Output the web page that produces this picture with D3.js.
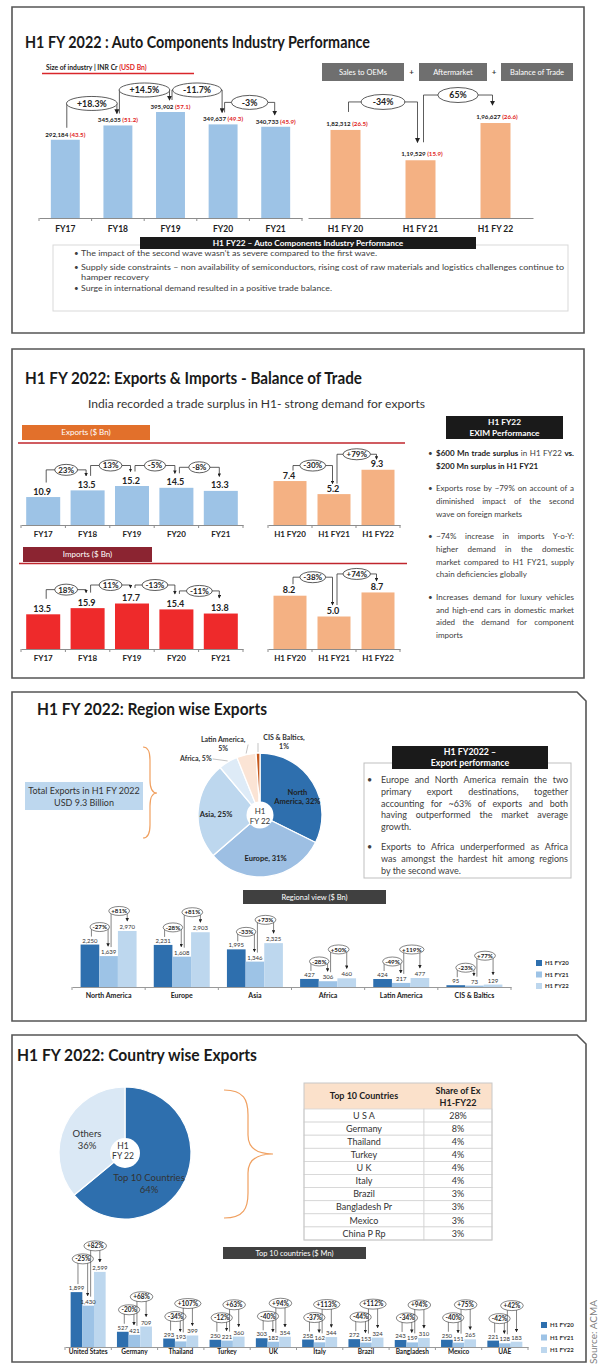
<!DOCTYPE html>
<html>
<head>
<meta charset="utf-8">
<script src="https://cdn.jsdelivr.net/npm/d3@7"></script>
<style>
  body { margin: 0; background: #fff; }
  svg { display: block; font-family: Lato, "Open Sans", sans-serif; }
</style>
</head>
<body>
<div id="chart"></div>
<script>
// ---- panel 1 : industry size ----
var sizeYears = ["FY17", "FY18", "FY19", "FY20", "FY21"];
var sizeInr = [292184, 345635, 395902, 349637, 340733];
var sizeUsd = [43.5, 51.2, 57.1, 49.3, 45.9];
var sizeGrowth = ["+18.3%", "+14.5%", "-11.7%", "-3%"];
var halfYears = ["H1 FY 20", "H1 FY 21", "H1 FY 22"];
var halfInr = [182312, 119529, 196627];
var halfUsd = [26.5, 15.9, 26.6];
var halfGrowth = ["-34%", "65%"];
var segments = ["Sales to OEMs", "Aftermarket", "Balance of Trade"];
var industryNotes = [
  "The impact of the second wave wasn\u2019t as severe compared to the first wave.",
  "Supply side constraints \u2013 non availability of semiconductors, rising cost of raw materials and logistics challenges continue to",
  "hamper recovery",
  "Surge in international demand resulted in a positive trade balance."
];

// ---- panel 2 : exports & imports ----
var tradeYears = ["FY17", "FY18", "FY19", "FY20", "FY21"];
var exportsYear = [10.9, 13.5, 15.2, 14.5, 13.3];
var exportsYearGrowth = ["23%", "13%", "-5%", "-8%"];
var importsYear = [13.5, 15.9, 17.7, 15.4, 13.8];
var importsYearGrowth = ["18%", "11%", "-13%", "-11%"];
var tradeHalves = ["H1 FY20", "H1 FY21", "H1 FY22"];
var exportsHalf = [7.4, 5.2, 9.3];
var exportsHalfGrowth = ["-30%", "+79%"];
var importsHalf = [8.2, 5.0, 8.7];
var importsHalfGrowth = ["-38%", "+74%"];
var eximNotes = [
  [[["$600 Mn trade surplus", 1], [" in H1 FY22 ", 0], ["vs.", 1]], [["$200 Mn surplus in H1 FY21", 1]]],
  ["Exports rose by ~79% on account of a", "diminished impact of the second", "wave on foreign markets"],
  ["~74% increase in imports Y-o-Y:", "higher demand in the domestic", "market compared to H1 FY21, supply", "chain deficiencies globally"],
  ["Increases demand for luxury vehicles", "and high-end cars in domestic market", "aided the demand for component", "imports"]
];

// ---- panel 3 : regions ----
var regions = ["North America", "Europe", "Asia", "Africa", "Latin America", "CIS & Baltics"];
var regionShare = [32, 31, 25, 5, 5, 1];
var regionFY20 = [2250, 2231, 1995, 427, 424, 95];
var regionFY21 = [1639, 1608, 1346, 306, 217, 73];
var regionFY22 = [2970, 2903, 2325, 460, 477, 129];
var regionChg21 = ["-27%", "-28%", "-33%", "-28%", "-49%", "-23%"];
var regionChg22 = ["+81%", "+81%", "+73%", "+50%", "+119%", "+77%"];
var halfSeries = ["H1 FY20", "H1 FY21", "H1 FY22"];
var regionNotes = [
  ["Europe and North America remain the two", "primary export destinations, together", "accounting for ~63% of exports and both", "having outperformed the market average", "growth."],
  ["Exports to Africa underperformed as Africa", "was amongst the hardest hit among regions", "by the second wave."]
];

// ---- panel 4 : countries ----
var countryMix = ["Top 10 Countries", "Others"];
var countryMixShare = [64, 36];
var tableCountries = ["U S A", "Germany", "Thailand", "Turkey", "U K", "Italy", "Brazil", "Bangladesh Pr", "Mexico", "China P Rp"];
var tableShare = ["28%", "8%", "4%", "4%", "4%", "4%", "3%", "3%", "3%", "3%"];
var countries = ["United States", "Germany", "Thailand", "Turkey", "UK", "Italy", "Brazil", "Bangladesh", "Mexico", "UAE"];
var countryFY20 = [1899, 527, 293, 250, 303, 258, 272, 243, 250, 221];
var countryFY21 = [1430, 421, 193, 221, 182, 162, 153, 159, 151, 128];
var countryFY22 = [2599, 709, 399, 360, 354, 344, 324, 310, 265, 183];
var countryChg21 = ["-25%", "-20%", "-34%", "-12%", "-40%", "-37%", "-44%", "-34%", "-40%", "-42%"];
var countryChg22 = ["+82%", "+68%", "+107%", "+63%", "+94%", "+113%", "+112%", "+94%", "+75%", "+42%"];

var seriesColors = ["#2e6fae", "#9dc3e6", "#bdd7ee"];

var svg = d3.select("#chart").append("svg").attr("width", 600).attr("height", 1369);
var defs = svg.append("defs");
[["arr", 5], ["arrS", 3.5]].forEach(function(m) {
  defs.append("marker").attr("id", m[0]).attr("viewBox", "0 0 6 6")
    .attr("refX", 5).attr("refY", 3).attr("markerUnits", "userSpaceOnUse")
    .attr("markerWidth", m[1]).attr("markerHeight", m[1]).attr("orient", "auto")
    .append("path").attr("d", "M0,0L6,3L0,6Z").attr("fill", "#222");
});

function frame(x0, y0, x1, y1, cut) {
  var d = cut ? "M" + x0 + "," + y0 + "H" + (x1 - cut) + "L" + x1 + "," + (y0 + cut) + "V" + y1 + "H" + x0 + "Z"
              : "M" + x0 + "," + y0 + "H" + x1 + "V" + y1 + "H" + x0 + "Z";
  svg.append("path").attr("d", d).attr("fill", "none").attr("stroke", "#555").attr("stroke-width", 1.6);
}

function title(x, y, w, s) {
  svg.append("text").attr("x", x).attr("y", y).attr("font-size", 17).attr("font-weight", 700)
    .attr("fill", "#1a1a1a").attr("textLength", w).attr("lengthAdjust", "spacingAndGlyphs").text(s);
}

function label(g, x, y, s, fs, o) {
  o = o || {};
  return g.append("text").attr("x", x).attr("y", y).attr("font-size", fs)
    .attr("font-weight", o.bold ? 700 : 400).attr("fill", o.fill || "#333")
    .attr("text-anchor", o.anchor || "middle").text(s);
}

function box(x, y, w, h, fill, lines, fs, bold) {
  svg.append("rect").attr("x", x).attr("y", y).attr("width", w).attr("height", h).attr("fill", fill);
  var lh = fs * 1.25, y0 = y + h / 2 - (lines.length - 1) * lh / 2 + fs * 0.35;
  lines.forEach(function(s, k) {
    label(svg, x + w / 2, y0 + k * lh, s, fs, {bold: bold, fill: "#fff"});
  });
}

function bubble(g, b) {
  g.append("path")
    .attr("d", "M" + b.x1 + "," + b.y1 + "V" + b.yb + "H" + b.x2 + "V" + b.y2)
    .attr("fill", "none").attr("stroke", "#333").attr("stroke-width", b.sw)
    .attr("marker-end", "url(#" + b.mk + ")");
  var cx = (b.x1 + b.x2) / 2;
  var e = g.append("ellipse").attr("cx", cx).attr("cy", b.yb).attr("ry", b.ry)
    .attr("fill", "#fff").attr("stroke", "#333").attr("stroke-width", b.sw);
  var t = label(g, cx, b.yb + b.fs * 0.36, b.text, b.fs, {bold: true, fill: "#222"});
  e.attr("rx", t.node().getComputedTextLength() / 2 + b.pad);
}

// single series bar chart on a band scale
function singleBars(o) {
  var x = d3.scaleBand().domain(o.cats).range(o.range).paddingInner(o.pad).paddingOuter(o.pad / 2);
  var y = d3.scaleLinear().domain([0, o.max]).range([o.base, o.top]);
  var g = svg.append("g");
  g.selectAll("rect").data(o.vals).join("rect")
    .attr("x", function(d, i) { return x(o.cats[i]); })
    .attr("y", function(d) { return y(d); })
    .attr("width", x.bandwidth())
    .attr("height", function(d) { return o.base - y(d); })
    .attr("fill", o.color);
  var ax = g.append("g").attr("transform", "translate(0," + o.base + ")")
    .call(d3.axisBottom(x).tickSize(0).tickPadding(o.catPad));
  ax.select(".domain").attr("stroke", "#8c8c8c");
  ax.selectAll("text").attr("font-size", o.catSize).attr("font-weight", 700).attr("fill", "#222")
    .attr("font-family", "Lato, sans-serif");
  if (o.ticks) {
    g.selectAll("line.bt").data(d3.range(o.cats.length + 1)).join("line").attr("class", "bt")
      .attr("x1", function(i) { return o.range[0] + i * x.step(); })
      .attr("x2", function(i) { return o.range[0] + i * x.step(); })
      .attr("y1", o.base).attr("y2", o.base + 3).attr("stroke", "#8c8c8c");
  }
  var cx = function(i) { return x(o.cats[i]) + x.bandwidth() / 2; };
  return {x: x, y: y, g: g, cx: cx};
}

function chainBubbles(c, vals, texts, lab, o) {
  for (var i = 0; i < texts.length; i++) {
    var lf = lab(vals[i]), lt = lab(vals[i + 1]);
    bubble(c.g, {
      x1: c.cx(i) + o.dl, x2: c.cx(i + 1) + o.dr,
      yb: Math.min(lf, lt) - o.gap, y1: lf - o.leg, y2: lt - o.leg,
      text: texts[i], fs: o.fs, pad: o.pad, ry: o.ry, sw: o.sw, mk: o.mk
    });
  }
}

// justified paragraph block
function paragraphs(g, paras, x, y0, lh, gap, width, fs, bulletX) {
  var y = y0;
  paras.forEach(function(lines) {
    label(g, bulletX, y, "\u2022", fs, {anchor: "start", fill: "#404040"});
    lines.forEach(function(line, k) {
      var t = g.append("text").attr("x", x).attr("y", y).attr("font-size", fs).attr("fill", "#404040");
      var segs = typeof line === "string" ? [[line, 0]] : line;
      segs.forEach(function(s) {
        t.append("tspan").attr("font-weight", s[1] ? 700 : 400).attr("fill", s[1] ? "#222" : "#404040").text(s[0]);
      });
      if (k < lines.length - 1) {
        var full = segs.map(function(s) { return s[0]; }).join("");
        var spaces = (full.match(/ /g) || []).length;
        var extra = width - t.node().getComputedTextLength();
        if (spaces > 0) t.attr("word-spacing", extra / spaces);
      }
      y += lh;
    });
    y += gap - lh;
  });
}

function indian(n) {
  var s = String(n);
  if (s.length <= 3) return s;
  return s.slice(0, -3).replace(/\B(?=(\d{2})+(?!\d))/g, ",") + "," + s.slice(-3);
}

// =============== PANEL 1 ===============
frame(12, 7, 584, 333);
title(25, 48, 345, "H1 FY 2022 : Auto Components Industry Performance");
var sz = label(svg, 46, 70, "Size of industry | INR Cr ", 6.8, {bold: true, anchor: "start", fill: "#222"});
sz.append("tspan").attr("fill", "#e02424").text("(USD Bn)");
svg.append("line").attr("x1", 42).attr("x2", 194).attr("y1", 73.5).attr("y2", 73.5)
  .attr("stroke", "#d9262b").attr("stroke-width", 1.5);

var p1L = singleBars({cats: sizeYears, vals: sizeInr, range: [39, 302], pad: 0.45, base: 218,
  max: 400000, top: 218 - 107.1, color: "#9dc3e6", catPad: 8, catSize: 8.5, ticks: true});
p1L.g.selectAll("text.val").data(sizeInr).join("text").attr("class", "val")
  .attr("x", function(d, i) { return p1L.cx(i); })
  .attr("y", function(d) { return p1L.y(d) - 3; })
  .attr("text-anchor", "middle").attr("font-size", 6.2).attr("font-weight", 700).attr("fill", "#222")
  .each(function(d, i) {
    var s = d3.select(this);
    s.append("tspan").text(d3.format(",")(d) + " ");
    s.append("tspan").attr("fill", "#e02424").text("(" + sizeUsd[i].toFixed(1) + ")");
  });
chainBubbles(p1L, sizeInr, sizeGrowth, function(v) { return p1L.y(v) - 3; },
  {dl: 1.5, dr: -1, gap: 19, leg: 9, fs: 8.8, pad: 10.5, ry: 7, sw: 0.8, mk: "arr"});

// segment tags
var tagX = [[322, 404], [419, 487], [501, 573]];
segments.forEach(function(s, i) {
  box(tagX[i][0], 63, tagX[i][1] - tagX[i][0], 18, "#6f6f6f", [s], 7.5, false);
  if (i > 0) label(svg, (tagX[i - 1][1] + tagX[i][0]) / 2, 75, "+", 8, {bold: true, fill: "#333"});
});

var p1R = singleBars({cats: halfYears, vals: halfInr, range: [308, 533], pad: 0.6, base: 218,
  max: 200000, top: 218 - 96.6, color: "#f4b183", catPad: 8, catSize: 8.5});
p1R.g.selectAll("text.val").data(halfInr).join("text").attr("class", "val")
  .attr("x", function(d, i) { return p1R.cx(i) + 1.5; })
  .attr("y", function(d) { return p1R.y(d) - 4; })
  .attr("text-anchor", "middle").attr("font-size", 6.2).attr("font-weight", 700).attr("fill", "#222")
  .each(function(d, i) {
    var s = d3.select(this);
    s.append("tspan").text(indian(d) + " ");
    s.append("tspan").attr("fill", "#e02424").text("(" + halfUsd[i].toFixed(1) + ")");
  });
chainBubbles(p1R, halfInr, halfGrowth, function(v) { return p1R.y(v) - 4; },
  {dl: 3, dr: -3, gap: 24, leg: 14, fs: 8.8, pad: 11.5, ry: 7.5, sw: 0.8, mk: "arr"});

svg.append("rect").attr("x", 53).attr("y", 245).attr("width", 515).attr("height", 66)
  .attr("fill", "none").attr("stroke", "#d9d9d9");
box(140, 237, 336, 12, "#1a1a1a", ["H1 FY22 \u2013 Auto Components Industry Performance"], 8.3, true);
var noteRows = [[256, 296, true], [270, 483, true], [279.5, 68, false], [291, 251, true]];
industryNotes.forEach(function(s, i) {
  if (noteRows[i][2]) label(svg, 74, noteRows[i][0], "\u2022", 8, {anchor: "start", fill: "#404040"});
  label(svg, 81, noteRows[i][0], s, 8.2, {anchor: "start", fill: "#404040"})
    .attr("textLength", noteRows[i][1]).attr("lengthAdjust", "spacingAndGlyphs");
});

// =============== PANEL 2 ===============
frame(12, 349, 584, 678);
title(25, 384, 337, "H1 FY 2022: Exports & Imports - Balance of Trade");
label(svg, 88, 408, "India recorded a trade surplus in H1- strong demand for exports", 11.5, {anchor: "start", fill: "#333"})
  .attr("textLength", 337).attr("lengthAdjust", "spacingAndGlyphs");

box(22, 425, 128, 15, "#e2702b", ["Exports ($ Bn)"], 8, false);
svg.append("line").attr("x1", 18).attr("x2", 405).attr("y1", 443).attr("y2", 443).attr("stroke", "#c0262d").attr("stroke-width", 1.5);
box(23, 547, 129, 15, "#8b2431", ["Imports ($ Bn)"], 8, false);
svg.append("line").attr("x1", 19).attr("x2", 407).attr("y1", 563.5).attr("y2", 563.5).attr("stroke", "#c0262d").attr("stroke-width", 1.5);

function tradeChart(cats, vals, growth, o) {
  var c = singleBars({cats: cats, vals: vals, range: o.range, pad: o.pad, base: o.base, max: o.max,
    top: o.top, color: o.color, catPad: 6.5, catSize: 8, ticks: true});
  var lab = function(v) { return c.y(v) - 2.5; };
  c.g.selectAll("text.val").data(vals).join("text").attr("class", "val")
    .attr("x", function(d, i) { return c.cx(i) - 1; })
    .attr("y", lab).attr("text-anchor", "middle").attr("font-size", 9).attr("font-weight", 700)
    .attr("fill", "#222").text(function(d) { return d3.format(".1f")(d); });
  chainBubbles(c, vals, growth, lab, {dl: 3, dr: -1.5, gap: o.gap, leg: o.leg, fs: 8, pad: 3.5, ry: 5.5, sw: 0.8, mk: "arrS"});
}
tradeChart(tradeYears, exportsYear, exportsYearGrowth, {range: [21, 243], pad: 0.234, base: 525, max: 20, top: 525 - 51.3, color: "#9dc3e6", gap: 18, leg: 12});
tradeChart(tradeHalves, exportsHalf, exportsHalfGrowth, {range: [268, 400], pad: 0.25, base: 525, max: 10, top: 525 - 59.4, color: "#f4b183", gap: 13, leg: 8});
tradeChart(tradeYears, importsYear, importsYearGrowth, {range: [21, 243], pad: 0.234, base: 649, max: 20, top: 649 - 51.4, color: "#ee2a2b", gap: 16, leg: 13});
tradeChart(tradeHalves, importsHalf, importsHalfGrowth, {range: [268, 400], pad: 0.25, base: 649, max: 10, top: 649 - 65, color: "#f4b183", gap: 16, leg: 9});

box(446, 416, 117, 23, "#1a1a1a", ["H1 FY22", "EXIM Performance"], 8.3, true);
paragraphs(svg, eximNotes, 436, 456, 12.8, 22.3, 138, 8, 428);

// =============== PANEL 3 ===============
frame(12, 692, 586, 1021, 9);
title(37, 715, 230, "H1 FY 2022: Region wise Exports");

svg.append("rect").attr("x", 25).attr("y", 782).attr("width", 118).attr("height", 28).attr("fill", "#bdd7ee");
label(svg, 84, 794, "Total Exports in H1 FY 2022", 9, {fill: "#333"});
label(svg, 84, 805.5, "USD 9.3 Billion", 9, {fill: "#333"});
svg.append("path").attr("d", "M143,747Q150,747 150,760V780Q150,793 157,793Q150,793 150,806V825Q150,838 143,838")
  .attr("fill", "none").attr("stroke", "#f0a060").attr("stroke-width", 1.2);

var regionColors = ["#2e6fae", "#9dbfe3", "#bdd7ee", "#deebf7", "#fbe4d5", "#c5581c"];
var rPie = svg.append("g").attr("transform", "translate(260,815)");
var rArcs = d3.pie().sort(null)(regionShare);
rPie.selectAll("path").data(rArcs).join("path")
  .attr("d", d3.arc().innerRadius(0).outerRadius(62))
  .attr("fill", function(d, i) { return regionColors[i]; })
  .attr("stroke", "#fff").attr("stroke-width", 1.3);
rPie.append("circle").attr("r", 13.5).attr("fill", "#fff");
label(rPie, 0, -1, "H1", 8, {fill: "#333"});
label(rPie, 0, 9, "FY 22", 8, {fill: "#333"});
var inArc = d3.arc().innerRadius(36).outerRadius(52);
var edgeArc = d3.arc().innerRadius(63).outerRadius(63);
rArcs.forEach(function(a, i) {
  var name = regions[i], pct = regionShare[i] + "%";
  if (regionShare[i] >= 20) {
    var c = inArc.centroid(a);
    var lines = name.indexOf(" ") > 0 ? [name.split(" ")[0], name.split(" ").slice(1).join(" ") + ", " + pct] : [name + ", " + pct];
    var dy = lines.length > 1 ? 3 : (i === 2 ? 5 : 2.5);
    lines.forEach(function(s, k) { label(rPie, c[0], c[1] + dy + k * 9.5, s, 7.5, {bold: true, fill: "#1f1f1f"}); });
  } else {
    var e = edgeArc.centroid(a);
    if (name.length < 10) {
      rPie.append("line").attr("x1", e[0]).attr("y1", e[1]).attr("x2", e[0] - 15).attr("y2", e[1] - 2).attr("stroke", "#aaa").attr("stroke-width", 0.7);
      label(rPie, e[0] - 16, e[1] + 0.5, name + ", " + pct, 7, {bold: true, anchor: "end", fill: "#333"});
    } else {
      var left = e[0] < -8;
      rPie.append("line").attr("x1", e[0]).attr("y1", e[1]).attr("x2", e[0] + (left ? 2 : 0)).attr("y2", e[1] - 9).attr("stroke", "#aaa").attr("stroke-width", 0.7);
      var tx = left ? e[0] - 23 : e[0] + 26;
      label(rPie, tx, e[1] - 12, name + ",", 7, {bold: true, fill: "#333"});
      label(rPie, tx, e[1] - 3, pct, 7, {bold: true, fill: "#333"});
    }
  }
});

svg.append("rect").attr("x", 364).attr("y", 763).attr("width", 207).attr("height", 115)
  .attr("fill", "none").attr("stroke", "#bfbfbf");
box(392, 746, 156, 23, "#1a1a1a", ["H1 FY2022 \u2013", "Export performance"], 8.8, true);
paragraphs(svg, regionNotes, 381, 783, 11.75, 20, 187, 9, 367);

box(243, 890, 143, 14, "#404040", ["Regional view ($ Bn)"], 7.5, false);

function groupBars(o) {
  var x = d3.scaleBand().domain(o.cats).range(o.range);
  var xs = d3.scaleBand().domain(halfSeries).range([o.inset, x.step() - o.inset]);
  var y = d3.scaleLinear().domain([0, o.max]).range([o.base, o.top]);
  var g = svg.append("g");
  var rows = o.cats.map(function(c, i) { return {cat: c, i: i, vals: [o.s[0][i], o.s[1][i], o.s[2][i]]}; });
  var grp = g.selectAll("g.grp").data(rows).join("g").attr("class", "grp")
    .attr("transform", function(d) { return "translate(" + x(d.cat) + ",0)"; });
  grp.selectAll("rect").data(function(d) { return d.vals; }).join("rect")
    .attr("x", function(v, j) { return xs(halfSeries[j]); })
    .attr("y", function(v) { return y(v); })
    .attr("width", xs.bandwidth())
    .attr("height", function(v) { return o.base - y(v); })
    .attr("fill", function(v, j) { return seriesColors[j]; });
  grp.selectAll("text.v").data(function(d) { return d.vals; }).join("text").attr("class", "v")
    .attr("x", function(v, j) { return xs(halfSeries[j]) + xs.bandwidth() / 2; })
    .attr("y", function(v) { return y(v) - 2; })
    .attr("text-anchor", "middle").attr("font-size", o.valSize).attr("fill", "#333")
    .text(function(v) { return d3.format(",")(v); });
  var ax = g.append("g").attr("transform", "translate(0," + o.base + ")")
    .call(d3.axisBottom(x).tickSize(0).tickPadding(o.catPad));
  ax.select(".domain").attr("stroke", "#999");
  ax.selectAll("text").attr("font-size", o.catSize).attr("font-weight", 700).attr("fill", "#222")
    .attr("font-family", "Lato, sans-serif");
  g.selectAll("line.bt").data(d3.range(o.cats.length + 1)).join("line").attr("class", "bt")
    .attr("x1", function(i) { return o.range[0] + i * x.step(); })
    .attr("x2", function(i) { return o.range[0] + i * x.step(); })
    .attr("y1", o.base).attr("y2", o.base + 3).attr("stroke", "#999");
  rows.forEach(function(r) {
    var c = function(j) { return x(r.cat) + xs(halfSeries[j]) + xs.bandwidth() / 2; };
    var lb = r.vals.map(function(v) { return y(v) - 2; });
    var b1 = Math.min(lb[0], lb[1]) - o.g1;
    var b2 = Math.min(b1 - o.g2, lb[2] - o.g3);
    if (o.lift) b1 = Math.min(b1, b2 + o.g2);
    var common = {fs: o.bfs, pad: o.bpad, ry: o.bry, sw: 0.6, mk: "arrS"};
    bubble(g, Object.assign({x1: c(0) + 1.5, x2: c(1) - 0.5, yb: b1, y1: lb[0] - 6, y2: lb[1] - 8, text: o.c1[r.i]}, common));
    bubble(g, Object.assign({x1: c(1) + 2.5, x2: c(2), yb: b2, y1: lb[1] - 7, y2: lb[2] - 8, text: o.c2[r.i]}, common));
  });
  // legend
  halfSeries.forEach(function(s, j) {
    g.append("rect").attr("x", o.legX).attr("y", o.legY[j] - 3).attr("width", 6).attr("height", 6).attr("fill", seriesColors[j]);
    label(g, o.legX + 9, o.legY[j] + 2.2, s, 6, {bold: true, anchor: "start", fill: "#333"});
  });
}

groupBars({cats: regions, s: [regionFY20, regionFY21, regionFY22], c1: regionChg21, c2: regionChg22,
  range: [72, 511], inset: 8.6, base: 987, max: 3000, top: 987 - 56.6, catPad: 6, catSize: 7, valSize: 6,
  g1: 15.5, g2: 12, g3: 18, lift: false, bfs: 6.2, bpad: 2.5, bry: 4.5,
  legX: 536, legY: [963, 974.5, 986]});

// =============== PANEL 4 ===============
frame(12, 1035, 586, 1362, 9);
title(17, 1061, 240, "H1 FY 2022: Country wise Exports");

var cPie = svg.append("g").attr("transform", "translate(125,1153)");
var cArcs = d3.pie().sort(null)(countryMixShare);
var cColors = ["#2e6fae", "#dae8f5"];
cPie.selectAll("path").data(cArcs).join("path")
  .attr("d", d3.arc().innerRadius(0).outerRadius(66))
  .attr("fill", function(d, i) { return cColors[i]; })
  .attr("stroke", "#fff").attr("stroke-width", 1.2);
cPie.append("circle").attr("r", 15).attr("fill", "#fff");
label(cPie, -2, -4, "H1", 8.5, {fill: "#333"});
label(cPie, -2, 6, "FY 22", 8.5, {fill: "#333"});
var cLab = d3.arc().innerRadius(34).outerRadius(50);
cArcs.forEach(function(a, i) {
  var c = cLab.centroid(a);
  var dx = i === 0 ? -14 : 0, dy = i === 0 ? 10 : 1.5;
  label(cPie, c[0] + dx, c[1] + dy, countryMix[i], 9.5, {fill: "#333"});
  label(cPie, c[0] + dx, c[1] + dy + 12.5, countryMixShare[i] + "%", 9.5, {fill: "#333"});
});

svg.append("path")
  .attr("d", "M224,1090C244,1090 248,1100 248,1115V1135C248,1149 258,1154 273,1154C258,1154 248,1159 248,1173V1193C248,1208 244,1218 224,1218")
  .attr("fill", "none").attr("stroke", "#f0a060").attr("stroke-width", 1.2);

// table
var tcol = [304, 424, 492];
var trow = d3.scaleBand().domain(tableCountries).range([1109, 1240]);
var tg = svg.append("g");
tg.append("rect").attr("x", tcol[0]).attr("y", 1083).attr("width", tcol[2] - tcol[0]).attr("height", 26).attr("fill", "#fbe1cb");
label(tg, (tcol[0] + tcol[1]) / 2, 1099, "Top 10 Countries", 9, {bold: true, fill: "#222"});
label(tg, (tcol[1] + tcol[2]) / 2, 1094, "Share of Ex", 9, {bold: true, fill: "#222"});
label(tg, (tcol[1] + tcol[2]) / 2, 1106, "H1-FY22", 9, {bold: true, fill: "#222"});
tableCountries.forEach(function(c, i) {
  var yy = trow(c);
  tg.append("rect").attr("x", tcol[0]).attr("y", yy).attr("width", tcol[1] - tcol[0]).attr("height", trow.bandwidth())
    .attr("fill", "#fff").attr("stroke", "#d4d4d4").attr("stroke-width", 0.8);
  tg.append("rect").attr("x", tcol[1]).attr("y", yy).attr("width", tcol[2] - tcol[1]).attr("height", trow.bandwidth())
    .attr("fill", "#fff").attr("stroke", "#d4d4d4").attr("stroke-width", 0.8);
  label(tg, (tcol[0] + tcol[1]) / 2, yy + trow.bandwidth() / 2 + 3.2, c, 9, {fill: "#333"});
  label(tg, (tcol[1] + tcol[2]) / 2, yy + trow.bandwidth() / 2 + 3.2, tableShare[i], 9, {fill: "#333"});
});
tg.append("rect").attr("x", tcol[0]).attr("y", 1083).attr("width", tcol[2] - tcol[0]).attr("height", 157)
  .attr("fill", "none").attr("stroke", "#c8c8c8");

box(223, 1247, 143, 12, "#404040", ["Top 10 countries ($ Mn)"], 7.5, false);

groupBars({cats: countries, s: [countryFY20, countryFY21, countryFY22], c1: countryChg21, c2: countryChg22,
  range: [65, 528], inset: 5.65, base: 1347, max: 3000, top: 1347 - 86.7, catPad: 2.5, catSize: 6.5, valSize: 6,
  g1: 20, g2: 13, g3: 24, lift: true, bfs: 6.5, bpad: 3, bry: 5,
  legX: 541, legY: [1325, 1337.5, 1350]});

svg.append("text").attr("transform", "translate(597,1332) rotate(-90)")
  .attr("text-anchor", "middle").attr("font-size", 10).attr("fill", "#808080").text("Source: ACMA");
</script>
</body>
</html>
